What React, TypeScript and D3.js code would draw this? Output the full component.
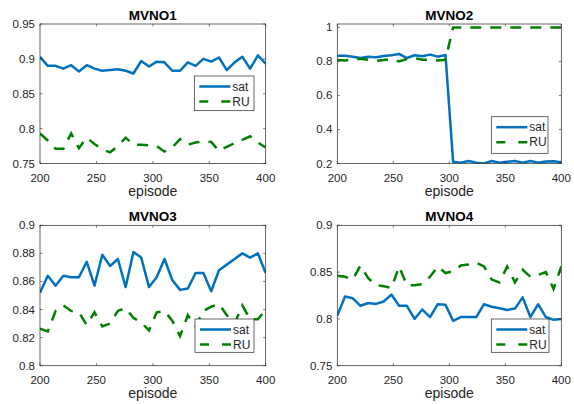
import React from "react";
import * as d3 from "d3";

const episodes = [200, 206.9, 213.8, 220.7, 227.6, 234.5, 241.4, 248.3, 255.2, 262.1, 269, 275.9, 282.8, 289.7, 296.6, 303.4, 310.3, 317.2, 324.1, 331, 337.9, 344.8, 351.7, 358.6, 365.5, 372.4, 379.3, 386.2, 393.1, 400];
const xTicks = [200, 250, 300, 350, 400];

const mvno1Sat = [0.903, 0.890, 0.890, 0.886, 0.891, 0.882, 0.891, 0.886, 0.883, 0.884, 0.885, 0.883, 0.879, 0.897, 0.889, 0.896, 0.895, 0.883, 0.883, 0.895, 0.890, 0.900, 0.896, 0.902, 0.884, 0.895, 0.903, 0.886, 0.905, 0.893];
const mvno1RU = [0.793, 0.783, 0.771, 0.771, 0.793, 0.772, 0.787, 0.778, 0.770, 0.766, 0.775, 0.787, 0.777, 0.777, 0.776, 0.775, 0.767, 0.773, 0.785, 0.777, 0.780, 0.782, 0.781, 0.768, 0.774, 0.779, 0.784, 0.789, 0.780, 0.773];

const mvno2Sat = [0.834, 0.834, 0.828, 0.820, 0.828, 0.824, 0.832, 0.836, 0.844, 0.820, 0.836, 0.830, 0.840, 0.828, 0.838, 0.210, 0.205, 0.215, 0.205, 0.200, 0.215, 0.205, 0.210, 0.215, 0.205, 0.215, 0.205, 0.212, 0.213, 0.208];
const mvno2RU = [0.808, 0.806, 0.812, 0.816, 0.810, 0.804, 0.808, 0.815, 0.800, 0.814, 0.820, 0.810, 0.810, 0.806, 0.810, 1, 1, 1, 1, 1, 1, 1, 1, 1, 1, 1, 1, 1, 1, 1];

const mvno3Sat = [0.852, 0.864, 0.857, 0.864, 0.863, 0.863, 0.874, 0.857, 0.879, 0.871, 0.876, 0.856, 0.881, 0.877, 0.856, 0.863, 0.876, 0.861, 0.854, 0.855, 0.866, 0.866, 0.853, 0.868, 0.872, 0.876, 0.880, 0.877, 0.880, 0.866];
const mvno3RU = [0.8263, 0.8244, 0.839, 0.843, 0.839, 0.838, 0.829, 0.838, 0.828, 0.830, 0.839, 0.841, 0.834, 0.831, 0.825, 0.838, 0.839, 0.832, 0.821, 0.836, 0.828, 0.839, 0.842, 0.844, 0.836, 0.830, 0.843, 0.833, 0.833, 0.840];

const mvno4Sat = [0.8036, 0.824, 0.822, 0.814, 0.817, 0.816, 0.8186, 0.826, 0.814, 0.814, 0.800, 0.810, 0.802, 0.8157, 0.815, 0.798, 0.802, 0.802, 0.802, 0.8157, 0.813, 0.8114, 0.8096, 0.811, 0.823, 0.802, 0.8157, 0.802, 0.799, 0.800];
const mvno4RU = [0.846, 0.845, 0.842, 0.857, 0.8436, 0.836, 0.835, 0.833, 0.856, 0.836, 0.836, 0.837, 0.845, 0.856, 0.849, 0.851, 0.857, 0.858, 0.860, 0.856, 0.842, 0.839, 0.856, 0.839, 0.8525, 0.845, 0.847, 0.850, 0.832, 0.856];

const titles = ["MVNO1", "MVNO2", "MVNO3", "MVNO4"];
const seriesNames = ["sat", "RU"];
const yTicks1 = [0.75, 0.8, 0.85, 0.9, 0.95];
const yTicks2 = [0.2, 0.4, 0.6, 0.8, 1];
const yTicks3 = [0.8, 0.82, 0.84, 0.86, 0.88, 0.9];
const yTicks4 = [0.75, 0.8, 0.85, 0.9];

const FONT = "'Liberation Sans', Arial, Helvetica, sans-serif";
const AX = "#262626";
const BLUE = "#0072BD";
const GREEN = "#008000";

type PanelProps = {
  id: string;
  title: string;
  sat: number[];
  ru: number[];
  yDomain: [number, number];
  yTicks: number[];
  box: { x0: number; x1: number; y0: number; y1: number };
  legend: { x: number; y: number; w: number; h: number };
};

function Panel({ id, title, sat, ru, yDomain, yTicks, box, legend }: PanelProps) {
  const x = d3.scaleLinear().domain([200, 400]).range([box.x0, box.x1]);
  const y = d3.scaleLinear().domain(yDomain).range([box.y1, box.y0]);
  const line = d3
    .line<number>()
    .x((_, i) => x(episodes[i]))
    .y((d) => y(d));
  const tl = 2.5;
  const fmt = (v: number) => String(v);
  const cx = (box.x0 + box.x1) / 2;
  return (
    <g>
      <defs>
        <clipPath id={id}>
          <rect x={box.x0} y={box.y0} width={box.x1 - box.x0} height={box.y1 - box.y0} />
        </clipPath>
      </defs>
      <rect x={box.x0} y={box.y0} width={box.x1 - box.x0} height={box.y1 - box.y0} fill="white" />
      <g clipPath={`url(#${id})`}>
        <path d={line(sat) || ""} fill="none" stroke={BLUE} strokeWidth={2.5} strokeLinejoin="round" />
        <path d={line(ru) || ""} fill="none" stroke={GREEN} strokeWidth={2.5} strokeDasharray="11,9" />
      </g>
      <rect x={box.x0} y={box.y0} width={box.x1 - box.x0} height={box.y1 - box.y0} fill="none" stroke={AX} strokeWidth={0.7} />
      {xTicks.map((t) => (
        <g key={"x" + t}>
          <line x1={x(t)} x2={x(t)} y1={box.y1} y2={box.y1 - tl} stroke={AX} strokeWidth={0.6} />
          <line x1={x(t)} x2={x(t)} y1={box.y0} y2={box.y0 + tl} stroke={AX} strokeWidth={0.6} />
          <text x={x(t)} y={box.y1 + 18} textAnchor="middle" fontSize={11.5} fill={AX} fontFamily={FONT}>
            {t}
          </text>
        </g>
      ))}
      {yTicks.map((t) => (
        <g key={"y" + t}>
          <line x1={box.x0} x2={box.x0 + tl} y1={y(t)} y2={y(t)} stroke={AX} strokeWidth={0.6} />
          <line x1={box.x1} x2={box.x1 - tl} y1={y(t)} y2={y(t)} stroke={AX} strokeWidth={0.6} />
          <text x={box.x0 - 5} y={y(t) + 4} textAnchor="end" fontSize={11.5} fill={AX} fontFamily={FONT}>
            {fmt(t)}
          </text>
        </g>
      ))}
      <text x={cx} y={box.y0 - 4} textAnchor="middle" fontSize={13.5} fontWeight="bold" fill="#000" fontFamily={FONT}>
        {title}
      </text>
      <text x={cx} y={box.y1 + 32.5} textAnchor="middle" fontSize={14} fill={AX} fontFamily={FONT}>
        episode
      </text>
      <g>
        <rect x={legend.x} y={legend.y} width={legend.w} height={legend.h} fill="white" stroke={AX} strokeWidth={0.7} />
        <line x1={legend.x + 5} x2={legend.x + 36} y1={legend.y + 10.5} y2={legend.y + 10.5} stroke={BLUE} strokeWidth={2.5} />
        <line x1={legend.x + 5} x2={legend.x + 36} y1={legend.y + 25.5} y2={legend.y + 25.5} stroke={GREEN} strokeWidth={2.5} strokeDasharray="9,13" />
        <text x={legend.x + 38} y={legend.y + 14.5} fontSize={12} fill={AX} fontFamily={FONT}>
          {seriesNames[0]}
        </text>
        <text x={legend.x + 38} y={legend.y + 29.5} fontSize={12} fill={AX} fontFamily={FONT}>
          {seriesNames[1]}
        </text>
      </g>
    </g>
  );
}

export default function App() {
  return (
    <svg
      width={574}
      height={404}
      style={{ position: "absolute", left: 0, top: 0, background: "white" }}
      fontFamily={FONT}
    >
      <rect width={574} height={404} fill="white" />
      <Panel
        id="c1"
        title={titles[0]}
        sat={mvno1Sat}
        ru={mvno1RU}
        yDomain={[0.75, 0.95]}
        yTicks={yTicks1}
        box={{ x0: 40, x1: 265.7, y0: 24, y1: 163.5 }}
        legend={{ x: 194.3, y: 76, w: 59.7, h: 34.7 }}
      />
      <Panel
        id="c2"
        title={titles[1]}
        sat={mvno2Sat}
        ru={mvno2RU}
        yDomain={[0.2, 1.02]}
        yTicks={yTicks2}
        box={{ x0: 337.3, x1: 561.3, y0: 24, y1: 163.5 }}
        legend={{ x: 491.3, y: 116.7, w: 56.7, h: 36.6 }}
      />
      <Panel
        id="c3"
        title={titles[2]}
        sat={mvno3Sat}
        ru={mvno3RU}
        yDomain={[0.8, 0.9]}
        yTicks={yTicks3}
        box={{ x0: 40, x1: 265.7, y0: 225.3, y1: 365.7 }}
        legend={{ x: 195, y: 319, w: 59, h: 33.3 }}
      />
      <Panel
        id="c4"
        title={titles[3]}
        sat={mvno4Sat}
        ru={mvno4RU}
        yDomain={[0.75, 0.9]}
        yTicks={yTicks4}
        box={{ x0: 337.3, x1: 561.3, y0: 225.3, y1: 365.7 }}
        legend={{ x: 491.3, y: 319, w: 57.7, h: 33.3 }}
      />
    </svg>
  );
}
